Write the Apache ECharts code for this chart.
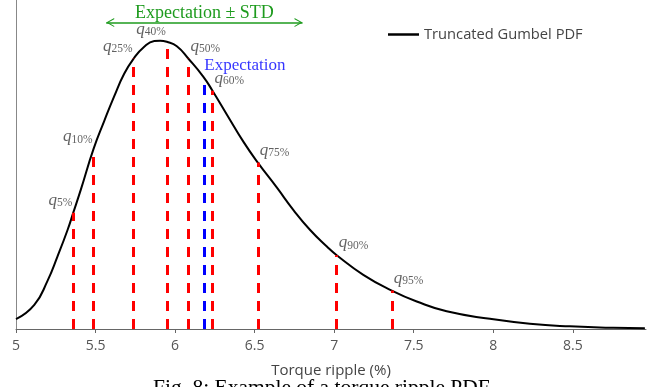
<!DOCTYPE html>
<html>
<head>
<meta charset="utf-8">
<script src="https://cdn.jsdelivr.net/npm/echarts@6/dist/echarts.min.js"></script>
<style>
  html, body { margin: 0; padding: 0; background: #fff; }
  #chart { width: 666px; height: 387px; }
</style>
</head>
<body>
<div id="chart"></div>
<script>
// Truncated Gumbel density of torque ripple (x in %, y = density)
const curveX = [5.000, 5.115, 5.198, 5.261, 5.324, 5.360, 5.408, 5.487, 5.555, 5.617,
                5.680, 5.739, 5.806, 5.869, 5.906, 5.948, 6.011, 6.084, 6.178, 6.235,
                6.325, 6.430, 6.520, 6.639, 6.744, 6.849, 6.954, 7.016, 7.183, 7.362,
                7.519, 7.707, 7.979, 8.230, 8.481, 8.754, 8.953];
const curveY = [0.026, 0.064, 0.128, 0.193, 0.263, 0.309, 0.371, 0.478, 0.553, 0.618,
                0.678, 0.718, 0.750, 0.765, 0.766, 0.763, 0.751, 0.718, 0.670, 0.633,
                0.570, 0.497, 0.442, 0.376, 0.316, 0.263, 0.219, 0.196, 0.144, 0.102,
                0.073, 0.047, 0.027, 0.014, 0.007, 0.003, 0.002];

// Quantiles of the distribution and the density at each of them
const quantileNames = ['5%', '10%', '25%', '40%', '50%', '60%', '75%', '90%', '95%'];
const quantileX = [5.360, 5.487, 5.739, 5.948, 6.084, 6.235, 6.520, 7.016, 7.362];
const quantileY = [0.309, 0.478, 0.718, 0.763, 0.718, 0.633, 0.442, 0.196, 0.102];

// Mean and standard deviation
const expectationX = 6.184;
const expectationY = 0.668;
const stdDev = 0.617;
const stdArrowY = 0.814;

// X axis ticks
const xTicks = [5, 5.5, 6, 6.5, 7, 7.5, 8, 8.5];
const xMin = 5, xMax = 8.96, yMax = 0.874;

const seriesName = 'Truncated Gumbel PDF';
const captionText = 'Fig. 8: Example of a torque ripple PDF';

// the first four quantile labels sit to the left of their line
const leftLabelled = 4;

const serif = 'Liberation Serif';
const sans = 'Open Sans';
const chevron = 'path://M6,0 L12,10 L10.6,10 L6,2.6 L1.4,10 L0,10 Z';

const quantileLines = quantileX.map((x, i) => [
  { coord: [x, 0] },
  { coord: [x, quantileY[i]] }
]);

const quantileLabels = quantileX.map((x, i) => {
  const left = i < leftLabelled;
  return {
    value: [x, quantileY[i]],
    label: {
      show: true,
      position: 'top',
      distance: 3,
      align: left ? 'right' : 'left',
      offset: [left ? -1 : 2, 0],
      formatter: '{q|q}{s|' + quantileNames[i] + '}',
      rich: {
        q: { fontFamily: serif, fontStyle: 'italic', fontSize: 17, color: '#3a3a3a' },
        s: { fontFamily: serif, fontSize: 11.5, color: '#3a3a3a', padding: [6, 0, 0, 0] }
      }
    }
  };
});

const chart = echarts.init(document.getElementById('chart'), null, { renderer: 'canvas' });

chart.setOption({
  animation: false,
  backgroundColor: '#fff',
  grid: { left: 16, right: 20, top: 0, bottom: 58, containLabel: false },
  legend: {
    data: [seriesName],
    left: 383,
    top: 22,
    icon: 'rect',
    itemWidth: 31,
    itemHeight: 2.5,
    textStyle: { fontFamily: sans, fontSize: 14.7, color: '#444' }
  },
  xAxis: {
    type: 'value',
    min: xMin,
    max: xMax,
    interval: 0.5,
    name: 'Torque ripple (%)',
    nameLocation: 'middle',
    nameGap: 34,
    nameTextStyle: { fontFamily: sans, fontSize: 15, color: '#444' },
    axisLine: { lineStyle: { color: '#666', width: 1 } },
    axisTick: { show: true, length: 4, lineStyle: { color: '#666' }, customValues: xTicks },
    axisLabel: {
      customValues: xTicks,
      fontFamily: sans, fontSize: 14, color: '#555', margin: 10,
      formatter: v => String(v)
    },
    splitLine: { show: false }
  },
  yAxis: {
    type: 'value',
    min: 0,
    max: yMax,
    axisLine: { show: true, lineStyle: { color: '#888', width: 1 } },
    axisTick: { show: false },
    axisLabel: { show: false },
    splitLine: { show: false }
  },
  series: [
    {
      name: 'quantiles',
      type: 'line',
      data: [],
      silent: true,
      markLine: {
        silent: true,
        symbol: ['none', 'none'],
        label: { show: false },
        lineStyle: { color: '#ff0000', width: 3, type: [10, 8] },
        data: quantileLines
      }
    },
    {
      name: 'expectation',
      type: 'line',
      data: [],
      silent: true,
      markLine: {
        silent: true,
        symbol: ['none', 'none'],
        label: { show: false },
        lineStyle: { color: '#0000ff', width: 3, type: [10, 8] },
        data: [[{ coord: [expectationX, 0] }, { coord: [expectationX, expectationY] }]]
      }
    },
    {
      name: seriesName,
      type: 'line',
      data: curveX.map((x, i) => [x, curveY[i]]),
      smooth: 0.5,
      symbol: 'none',
      color: '#000',
      lineStyle: { color: '#000', width: 2 },
      z: 3
    },
    {
      name: 'std span',
      type: 'line',
      data: [],
      silent: true,
      markLine: {
        silent: true,
        symbol: [chevron, chevron],
        symbolSize: [9, 8],
        symbolOffset: [[0, 4], [0, 4]],
        lineStyle: { color: '#1e9b1e', width: 1.5, type: 'solid' },
        label: {
          show: true,
          position: 'insideMiddleTop',
          distance: 0,
          formatter: 'Expectation \u00b1 STD',
          fontFamily: serif,
          fontSize: 18,
          color: '#1e9b1e'
        },
        data: [[{ coord: [expectationX - stdDev, stdArrowY] },
                { coord: [expectationX + stdDev, stdArrowY] }]]
      }
    },
    {
      name: 'quantile labels',
      type: 'scatter',
      silent: true,
      symbolSize: 1,
      itemStyle: { color: 'rgba(0,0,0,0)' },
      data: quantileLabels.concat([{
        value: [expectationX, expectationY],
        label: {
          show: true,
          position: 'top',
          distance: 3,
          align: 'left',
          offset: [0, 0],
          formatter: 'Expectation',
          fontFamily: serif,
          fontSize: 17,
          color: '#0000ff'
        }
      }]),
      z: 4
    }
  ],
  graphic: [{
    type: 'text',
    left: 153,
    top: 377,
    style: {
      text: captionText,
      fontFamily: serif,
      fontSize: 21.5,
      fill: '#000'
    }
  }]
});
</script>
</body>
</html>
